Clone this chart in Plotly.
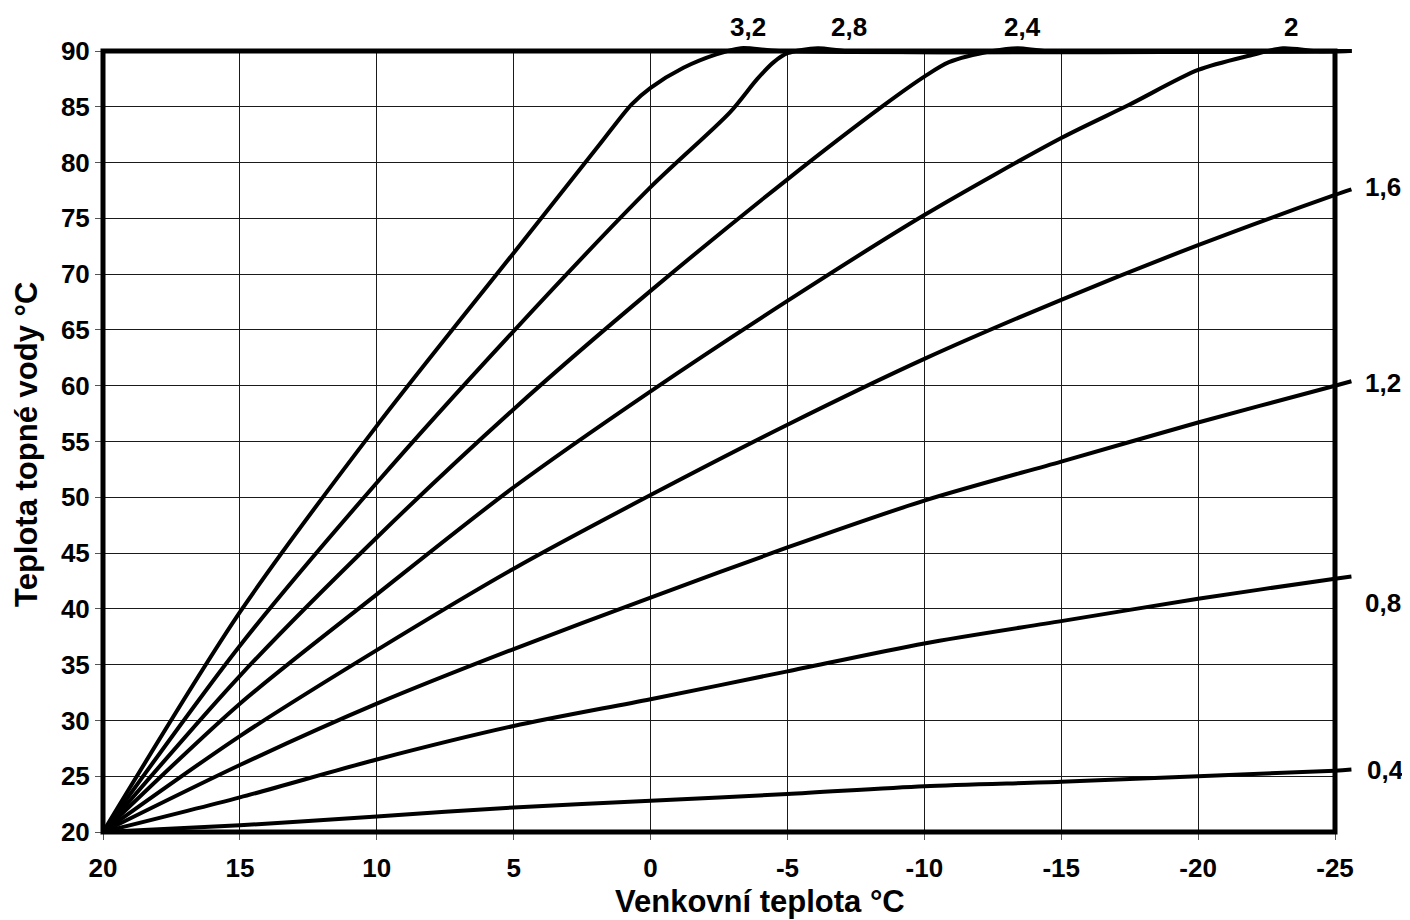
import plotly.graph_objects as go

# ---------------- data ----------------
x_04 = [20, 15, 10, 5, 0, -5, -10, -15, -20, -25, -25.6]
y_04 = [20, 20.6, 21.4, 22.2, 22.8, 23.4, 24.1, 24.5, 25.0, 25.5, 25.6]

x_08 = [20, 15, 10, 5, 0, -5, -10, -15, -20, -25, -25.6]
y_08 = [20, 23.1, 26.5, 29.5, 31.9, 34.4, 36.9, 38.9, 40.9, 42.7, 42.9]

x_12 = [20, 15, 10, 5, 0, -5, -10, -15, -20, -25, -25.6]
y_12 = [20, 26.0, 31.5, 36.4, 41.0, 45.5, 49.7, 53.2, 56.7, 60.0, 60.4]

x_16 = [20, 15, 10, 5, 0, -5, -10, -15, -20, -25, -25.6]
y_16 = [20, 28.6, 36.3, 43.6, 50.2, 56.5, 62.4, 67.7, 72.6, 77.1, 77.6]

x_20 = [20, 15, 10, 5, 0, -5, -10, -15, -17.5, -20, -21.9, -23.1, -24.3, -25.6]
y_20 = [20, 31.5, 41.3, 50.9, 59.5, 67.6, 75.3, 82.2, 85.2, 88.3, 89.6, 90.25, 90, 90]

x_24 = [20, 15, 10, 5, 0, -5, -8.5, -10, -10.9, -12.5, -13.4, -14.5, -25.6]
y_24 = [20, 34.0, 46.4, 57.9, 68.5, 78.5, 85.1, 87.7, 89.0, 90.0, 90.25, 90, 90]

x_28 = [20, 15, 10, 5, 0, -2.9, -3.9, -4.5, -5.0, -6.1, -7.2, -25.6]
y_28 = [20, 36.7, 51.3, 64.9, 77.8, 84.5, 87.5, 89.0, 89.8, 90.25, 90, 90]

x_32 = [20, 15, 10, 5, 1.9, 0.7, 0, -1.2, -2.4, -3.3, -4.7, -25.6]
y_32 = [20, 39.7, 56.4, 71.9, 81.5, 85.2, 86.7, 88.5, 89.7, 90.25, 90, 90]

curve_names = ["0,4", "0,8", "1,2", "1,6", "2", "2,4", "2,8", "3,2"]
curve_xs = [x_04, x_08, x_12, x_16, x_20, x_24, x_28, x_32]
curve_ys = [y_04, y_08, y_12, y_16, y_20, y_24, y_28, y_32]

label_text = ["3,2", "2,8", "2,4", "2", "1,6", "1,2", "0,8", "0,4"]
label_x = [-3.56, -7.25, -13.58, -23.39, -26.75, -26.75, -26.75, -26.86]
label_y = [92.17, 92.17, 92.17, 92.17, 77.8, 60.2, 40.5, 25.6]

x_ticks = [20, 15, 10, 5, 0, -5, -10, -15, -20, -25]
y_ticks = [20, 25, 30, 35, 40, 45, 50, 55, 60, 65, 70, 75, 80, 85, 90]

x_title = "Venkovní teplota °C"
y_title = "Teplota topné vody °C"

# ---------------- layout geometry ----------------
OFF = 8                                   # page body margin of the browser
W, H = 1410 - OFF, 920 - OFF
# plot frame and paper area in screen pixels, converted to figure pixels
PL, PR, PT, PB = 103 - OFF, 1335 - OFF, 51 - OFF, 832 - OFF
AL, AR, AT, AB = 80 - OFF, 1360 - OFF, 30 - OFF, 840 - OFF
ML, MR, MT, MB = AL, W - AR, AT, H - AB
pw, ph = AR - AL, AB - AT
X0, X1 = 20, -25
Y0, Y1 = 20, 90
ppx = (PR - PL) / (X0 - X1)
ppy = (PB - PT) / (Y1 - Y0)

xdom = [(PL - AL) / pw, (PR - AL) / pw]
ydom = [(AB - PB) / ph, (AB - PT) / ph]
x2range = [X0 + (PL - AL) / ppx, X1 - (AR - PR) / ppx]
y2range = [Y0 - (AB - PB) / ppy, Y1 + (PT - AT) / ppy]


def xpaper(v):
    return (PL + (X0 - v) * ppx - AL) / pw


def ypaper(v):
    return (AB - (PB - (v - Y0) * ppy)) / ph


FONT = "Liberation Sans, Arial, sans-serif"

fig = go.Figure()
# empty trace so that the gridded main subplot (x, y) is created
fig.add_trace(go.Scatter(x=[], y=[], xaxis="x", yaxis="y",
                         showlegend=False, hoverinfo="skip"))
for nm, xs, ys in zip(curve_names, curve_xs, curve_ys):
    fig.add_trace(go.Scatter(
        x=xs, y=ys, name=nm, mode="lines",
        line=dict(color="black", width=4, shape="spline", smoothing=0.8),
        xaxis="x2", yaxis="y2", showlegend=False, hoverinfo="skip",
    ))

annotations = []
for t, lx, ly in zip(label_text, label_x, label_y):
    annotations.append(dict(
        x=xpaper(lx), y=ypaper(ly), xref="paper", yref="paper", text=t,
        showarrow=False,
        font=dict(family=FONT, size=26, color="black", weight="bold"),
        xanchor="center", yanchor="middle",
    ))
annotations.append(dict(
    x=(760 - OFF - AL) / pw, y=(AB - (901 - OFF)) / ph,
    xref="paper", yref="paper",
    text=x_title, showarrow=False, xanchor="center", yanchor="middle",
    font=dict(family=FONT, size=31, color="black", weight="bold"),
))
annotations.append(dict(
    x=(26 - OFF - AL) / pw, y=(AB - (445 - OFF)) / ph,
    xref="paper", yref="paper",
    text=y_title, showarrow=False, xanchor="center", yanchor="middle",
    textangle=-90,
    font=dict(family=FONT, size=31, color="black", weight="bold"),
))

fig.update_layout(
    width=W, height=H,
    margin=dict(l=ML, r=MR, t=MT, b=MB, pad=0),
    paper_bgcolor="white", plot_bgcolor="rgba(0,0,0,0)",
    showlegend=False,
    xaxis=dict(
        domain=xdom, range=[X0, X1], tickvals=x_ticks,
        ticktext=[str(v) for v in x_ticks],
        showgrid=True, gridcolor="#1a1a1a", gridwidth=1, zeroline=False,
        showline=False, ticks="outside", ticklen=7, tickcolor="#555",
        ticklabelstandoff=6,
        tickfont=dict(family=FONT, size=26, color="black", weight="bold"),
        anchor="y", automargin=False, fixedrange=True,
    ),
    yaxis=dict(
        domain=ydom, range=[Y0, Y1], tickvals=y_ticks,
        showgrid=True, gridcolor="#1a1a1a", gridwidth=1, zeroline=False,
        showline=False, ticks="outside", ticklen=7, tickcolor="#555",
        tickfont=dict(family=FONT, size=26, color="black", weight="bold"),
        anchor="x", automargin=False, fixedrange=True,
    ),
    xaxis2=dict(domain=[0, 1], range=x2range, visible=False, anchor="y2",
                fixedrange=True),
    yaxis2=dict(domain=[0, 1], range=y2range, visible=False, anchor="x2",
                fixedrange=True),
    shapes=[dict(type="rect", xref="paper", yref="paper",
                 x0=xdom[0], x1=xdom[1], y0=ydom[0], y1=ydom[1],
                 line=dict(color="black", width=5), layer="above")],
    annotations=annotations,
)

fig.write_html("out.html")
